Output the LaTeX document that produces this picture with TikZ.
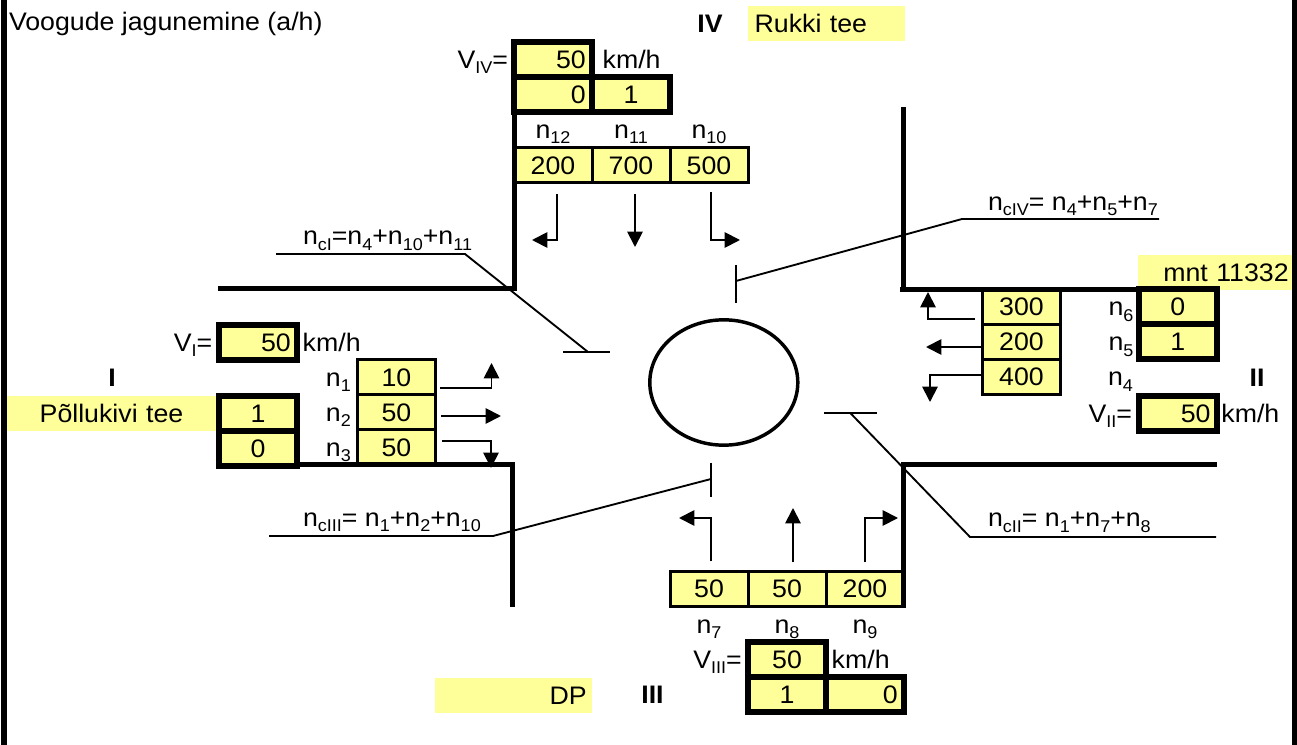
\documentclass[tikz,border=0pt]{standalone}
\usepackage{fontspec}
\setsansfont[FakeStretch=1.055]{Liberation Sans}
\usetikzlibrary{arrows.meta, positioning, shapes.geometric}
\definecolor{cellyellow}{HTML}{FFFF99}
\tikzset{
    every node/.style={font=\sffamily\fontsize{19}{20}\selectfont},
    text_label/.style={
        inner sep=0pt,
        outer sep=0pt,
        text height=13.5pt,
        text depth=0pt
    },
    arm_label/.style={
        text_label,
        font=\sffamily\bfseries\fontsize{19}{20}\selectfont
    },
    flow_cell/.style={
        rectangle,
        draw=black,
        fill=cellyellow,
        line width=2.25pt,
        outer sep=0pt,
        inner xsep=4.7pt,
        inner ysep=0pt,
        text width=49.1pt,
        minimum height=26.25pt,
        text height=13.5pt,
        text depth=0pt,
        align=center
    },
    speed_cell/.style={
        flow_cell,
        line width=4.5pt
    },
    num_right/.style={
        align=right
    },
    road_name/.style={
        rectangle,
        fill=cellyellow,
        inner ysep=0pt,
        inner xsep=5pt,
        text width=107.75pt,
        minimum height=26.25pt,
        text height=13.5pt,
        text depth=0pt
    },
    ring_shape/.style={
        ellipse,
        draw=black,
        line width=2.6pt,
        minimum width=111pt,
        minimum height=94pt
    },
    road_line/.style={
        line width=3.75pt
    },
    frame_line/.style={
        line width=4.5pt
    },
    flow_arrow/.style={
        -{Triangle[length=11.5pt,width=11.5pt]},
        line width=1.4pt
    },
    callout_line/.style={
        line width=1.4pt
    }
}
\newcommand{\flowsub}[2]{#1\raisebox{-3.8pt}{\fontsize{12.8}{13}\selectfont #2}}

\begin{document}
\begin{tikzpicture}[x=0.75pt, y=-0.75pt]
\useasboundingbox (0,0) rectangle (1297,745);

\node[text_label, anchor=base west] (title) at (9,31) {Voogude jagunemine (a/h)};

\node[road_name, align=left] (nameIV) at (826.5,24) {Rukki tee};
\node[road_name, text width=146.75pt, align=center] (nameI) at (111.5,414) {Põllukivi tee};
\node[road_name, inner xsep=2.5pt, text width=110.5pt, align=right] (nameII) at (1215,272.5) {mnt 11332};
\node[road_name, inner xsep=4pt, text width=109.75pt, align=right] (nameIII) at (513.5,695) {DP};

\node[arm_label] (armIV) at (710,23.3) {IV};
\node[arm_label] (armI) at (112,378) {I};
\node[arm_label] (armII) at (1257,378) {II};
\node[arm_label] (armIII) at (652.5,694.3) {III};

% arm IV
\node[speed_cell, num_right] (speedIV) at (553,59.5) {50};
\node[text_label, left=4.5pt of speedIV] (labVIV) {\flowsub{V}{IV}=};
\node[text_label, right=8pt of speedIV] (unitIV) {km/h};
\node[speed_cell, num_right, below=0pt of speedIV] (signIVa) {0};
\node[speed_cell, right=0pt of signIVa] (signIVb) {1};

\node[flow_cell] (cellTwelve) at (553,165.5) {200};
\node[flow_cell, right=0pt of cellTwelve] (cellEleven) {700};
\node[flow_cell, right=0pt of cellEleven] (cellTen) {500};
\node[text_label, above=7.3pt of cellTwelve] (labTwelve) {\flowsub{n}{12}};
\node[text_label, above=7.3pt of cellEleven] (labEleven) {\flowsub{n}{11}};
\node[text_label, above=7.3pt of cellTen] (labTen) {\flowsub{n}{10}};

% arm I
\node[speed_cell, num_right] (speedI) at (258,342.5) {50};
\node[text_label, left=5pt of speedI] (labVI) {\flowsub{V}{I}=};
\node[text_label, right=4.3pt of speedI] (unitI) {km/h};
\node[speed_cell] (signIa) at (258,413.5) {1};
\node[speed_cell, below=0pt of signIa] (signIb) {0};

\node[flow_cell] (cellOne) at (396.5,377.5) {10};
\node[flow_cell, below=0pt of cellOne] (cellTwo) {50};
\node[flow_cell, below=0pt of cellTwo] (cellThree) {50};
\node[text_label, left=5pt of cellOne] (labOne) {\flowsub{n}{1}};
\node[text_label, left=5pt of cellTwo] (labTwo) {\flowsub{n}{2}};
\node[text_label, left=5pt of cellThree] (labThree) {\flowsub{n}{3}};

% arm II
\node[flow_cell] (cellSix) at (1021.5,307) {300};
\node[flow_cell, below=0pt of cellSix] (cellFive) {200};
\node[flow_cell, below=0pt of cellFive] (cellFour) {400};

\node[speed_cell] (signIIa) at (1177.75,307) {0};
\node[speed_cell, below=0pt of signIIa] (signIIb) {1};
\node[text_label, left=4pt of signIIa] (labSix) {\flowsub{n}{6}};
\node[text_label, left=4pt of signIIb] (labFive) {\flowsub{n}{5}};
\node[text_label, anchor=base east] (labFour) at (1133,386) {\flowsub{n}{4}};
\node[speed_cell, num_right] (speedII) at (1177.75,413.5) {50};
\node[text_label, left=5pt of speedII] (labVII) {\flowsub{V}{II}=};
\node[text_label, right=3.5pt of speedII] (unitII) {km/h};

% arm III
\node[flow_cell] (cellSeven) at (709,588.75) {50};
\node[flow_cell, right=0pt of cellSeven] (cellEight) {50};
\node[flow_cell, right=0pt of cellEight] (cellNine) {200};
\node[text_label, below=7pt of cellSeven] (labSeven) {\flowsub{n}{7}};
\node[text_label, below=7pt of cellEight] (labEight) {\flowsub{n}{8}};
\node[text_label, below=7pt of cellNine] (labNine) {\flowsub{n}{9}};

\node[speed_cell] (speedIII) at (787,659.5) {50};
\node[text_label, left=4.7pt of speedIII] (labVIII) {\flowsub{V}{III}=};
\node[text_label, right=4.3pt of speedIII] (unitIII) {km/h};
\node[speed_cell, below=0pt of speedIII] (signIIIa) {1};
\node[speed_cell, num_right, right=0pt of signIIIa] (signIIIb) {0};

\node[ring_shape] (ring) at (723.8,382.5) {};

% road edges
\draw[road_line] (218,289) -- (514.5,289) -- (514.5,112);
\draw[road_line] (903,107) -- (903,289.5);
\draw[road_line] (900,289.5) -- (1218,289.5);
\draw[road_line] (298,465) -- (512.5,465) -- (512.5,607);
\draw[road_line] (1217,465) -- (903.5,465) -- (903.5,607);
\draw[frame_line] (4,0) -- (4,745);
\draw[frame_line] (1294.5,0) -- (1294.5,745);

% flow arrows
\coordinate (tipTwelve) at (532,240);
\coordinate (tipEleven) at (635,247);
\coordinate (tipTen) at (740,240);
\coordinate (tipOne) at (491.5,363);
\coordinate (tipTwo) at (501,416);
\coordinate (tipThree) at (491,468);
\coordinate (tipSix) at (928,292);
\coordinate (tipFive) at (926,347);
\coordinate (tipFour) at (930,402);
\coordinate (tipSeven) at (679,518);
\coordinate (tipEight) at (793,508);
\coordinate (tipNine) at (898,518);

\draw[flow_arrow] ([shift={(4,11)}]cellTwelve.south) |- (tipTwelve);
\draw[flow_arrow] ([shift={(4,11)}]cellEleven.south) -- (tipEleven);
\draw[flow_arrow] ([shift={(2,9)}]cellTen.south) |- (tipTen);
\draw[flow_arrow] ([shift={(4.5,10.5)}]cellOne.east) -| (tipOne);
\draw[flow_arrow] ([shift={(5.5,3.5)}]cellTwo.east) -- (tipTwo);
\draw[flow_arrow] ([shift={(6.5,-6.5)}]cellThree.east) -| (tipThree);
\draw[flow_arrow] ([shift={(-7.5,12)}]cellSix.west) -| (tipSix);
\draw[flow_arrow] ([shift={(0,5)}]cellFive.west) -- (tipFive);
\draw[flow_arrow] ([shift={(0,-2)}]cellFour.west) -| (tipFour);
\draw[flow_arrow] ([shift={(2,-10)}]cellSeven.north) |- (tipSeven);
\draw[flow_arrow] ([shift={(6,-9)}]cellEight.north) -- (tipEight);
\draw[flow_arrow] ([shift={(0,-9)}]cellNine.north) |- (tipNine);

% capacity callouts
\node[text_label, anchor=base west] (noteI) at (303,245) {\flowsub{n}{cI}=\flowsub{n}{4}+\flowsub{n}{10}+\flowsub{n}{11}};
\node[text_label, anchor=base west] (noteII) at (988,527) {\flowsub{n}{cII}= \flowsub{n}{1}+\flowsub{n}{7}+\flowsub{n}{8}};
\node[text_label, anchor=base west] (noteIII) at (303,526.7) {\flowsub{n}{cIII}= \flowsub{n}{1}+\flowsub{n}{2}+\flowsub{n}{10}};
\node[text_label, anchor=base west] (noteIV) at (988,210.7) {\flowsub{n}{cIV}= \flowsub{n}{4}+\flowsub{n}{5}+\flowsub{n}{7}};

\coordinate (leadI) at (276,254);
\coordinate (bendI) at (465,254);
\coordinate (footI) at (588,352);
\coordinate (tickIa) at (563,352);
\coordinate (tickIb) at (610,352);
\coordinate (leadII) at (1216,537);
\coordinate (bendII) at (970,537);
\coordinate (footII) at (850,412.7);
\coordinate (tickIIa) at (824,412.7);
\coordinate (tickIIb) at (877,412.7);
\coordinate (leadIII) at (269,536);
\coordinate (bendIII) at (493,536);
\coordinate (footIII) at (711,479);
\coordinate (tickIIIa) at (711,463);
\coordinate (tickIIIb) at (711,497);
\coordinate (leadIV) at (1159,219);
\coordinate (bendIV) at (962,219);
\coordinate (footIV) at (736,281);
\coordinate (tickIVa) at (736,265);
\coordinate (tickIVb) at (736,303);

\draw[callout_line] (leadI) -- (bendI) -- (footI);
\draw[callout_line] (tickIa) -- (tickIb);
\draw[callout_line] (leadII) -- (bendII) -- (footII);
\draw[callout_line] (tickIIa) -- (tickIIb);
\draw[callout_line] (leadIII) -- (bendIII) -- (footIII);
\draw[callout_line] (tickIIIa) -- (tickIIIb);
\draw[callout_line] (leadIV) -- (bendIV) -- (footIV);
\draw[callout_line] (tickIVa) -- (tickIVb);

\end{tikzpicture}
\end{document}
